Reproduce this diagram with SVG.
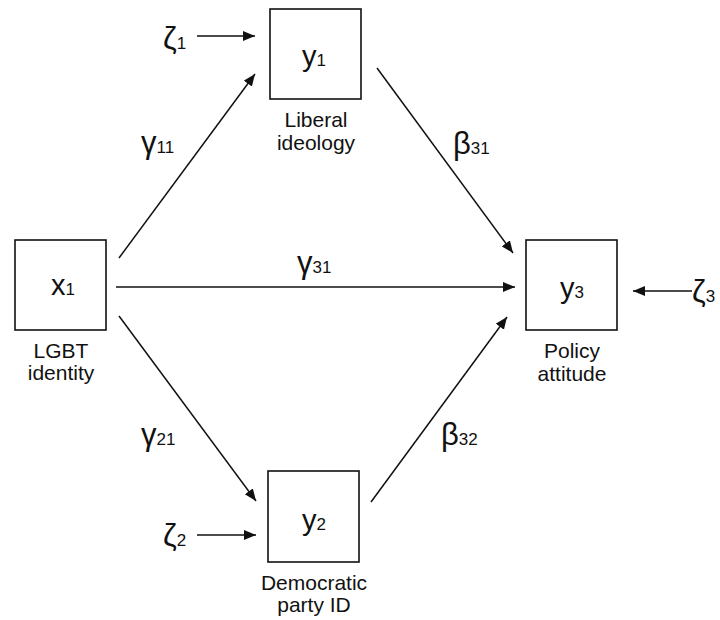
<svg xmlns="http://www.w3.org/2000/svg" width="720" height="620" viewBox="0 0 720 620">
<style>
text{font-family:"Liberation Sans",Arial,Helvetica,sans-serif;fill:#111}
.box{fill:#fff;stroke:#111;stroke-width:1.6}
.lab{font-size:21px;text-anchor:middle}
.main{font-size:29px}
.sub{font-size:17px}
.gk{font-size:31px}
.edge{stroke:#111;stroke-width:1.5;fill:none;marker-end:url(#ah)}
</style>
<defs>
<marker id="ah" markerUnits="userSpaceOnUse" markerWidth="13" markerHeight="11" refX="12" refY="5" orient="auto">
<path d="M0,0 L12,5 L0,10 Z" fill="#111"/>
</marker>
</defs>
<rect width="720" height="620" fill="#fff"/>
<g id="connectors">
<line class="edge" x1="197" y1="36" x2="255" y2="36"/>
<line class="edge" x1="119" y1="258" x2="255" y2="74"/>
<line class="edge" x1="116" y1="287" x2="515" y2="287"/>
<line class="edge" x1="119" y1="316" x2="256" y2="501"/>
<line class="edge" x1="377" y1="68" x2="513" y2="253"/>
<line class="edge" x1="371" y1="502" x2="507" y2="317"/>
<line class="edge" x1="197" y1="535" x2="256" y2="535"/>
<line class="edge" x1="692" y1="291" x2="633" y2="291"/>
<text x="141" y="153"><tspan class="gk">γ</tspan><tspan class="sub">11</tspan></text>
<text x="297" y="273"><tspan class="gk">γ</tspan><tspan class="sub">31</tspan></text>
<text x="141" y="445"><tspan class="gk">γ</tspan><tspan class="sub">21</tspan></text>
<text x="453" y="154"><tspan class="gk">β</tspan><tspan class="sub">31</tspan></text>
<text x="441" y="445"><tspan class="gk">β</tspan><tspan class="sub">32</tspan></text>
</g>
<g id="zeta1"><text x="163" y="49"><tspan class="gk">ζ</tspan><tspan class="sub">1</tspan></text></g>
<g id="zeta2"><text x="163" y="546"><tspan class="gk">ζ</tspan><tspan class="sub">2</tspan></text></g>
<g id="zeta3"><text x="692" y="302"><tspan class="gk">ζ</tspan><tspan class="sub">3</tspan></text></g>
<g id="x1">
<rect class="box" x="15" y="240" width="91" height="90"/>
<text x="63" y="295" text-anchor="middle"><tspan class="main">x</tspan><tspan class="sub">1</tspan></text>
<text class="lab" x="61" y="358">LGBT</text>
<text class="lab" x="61" y="380">identity</text>
</g>
<g id="y1">
<rect class="box" x="270" y="9" width="91" height="90"/>
<text x="314" y="66" text-anchor="middle"><tspan class="main">y</tspan><tspan class="sub">1</tspan></text>
<text class="lab" x="316" y="127">Liberal</text>
<text class="lab" x="316" y="150">ideology</text>
</g>
<g id="y2">
<rect class="box" x="268" y="471" width="91" height="91"/>
<text x="314" y="530" text-anchor="middle"><tspan class="main">y</tspan><tspan class="sub">2</tspan></text>
<text class="lab" x="314" y="590">Democratic</text>
<text class="lab" x="314" y="612">party ID</text>
</g>
<g id="y3">
<rect class="box" x="526" y="240" width="91" height="90"/>
<text x="572" y="298" text-anchor="middle"><tspan class="main">y</tspan><tspan class="sub">3</tspan></text>
<text class="lab" x="572" y="358">Policy</text>
<text class="lab" x="572" y="381">attitude</text>
</g>
</svg>
